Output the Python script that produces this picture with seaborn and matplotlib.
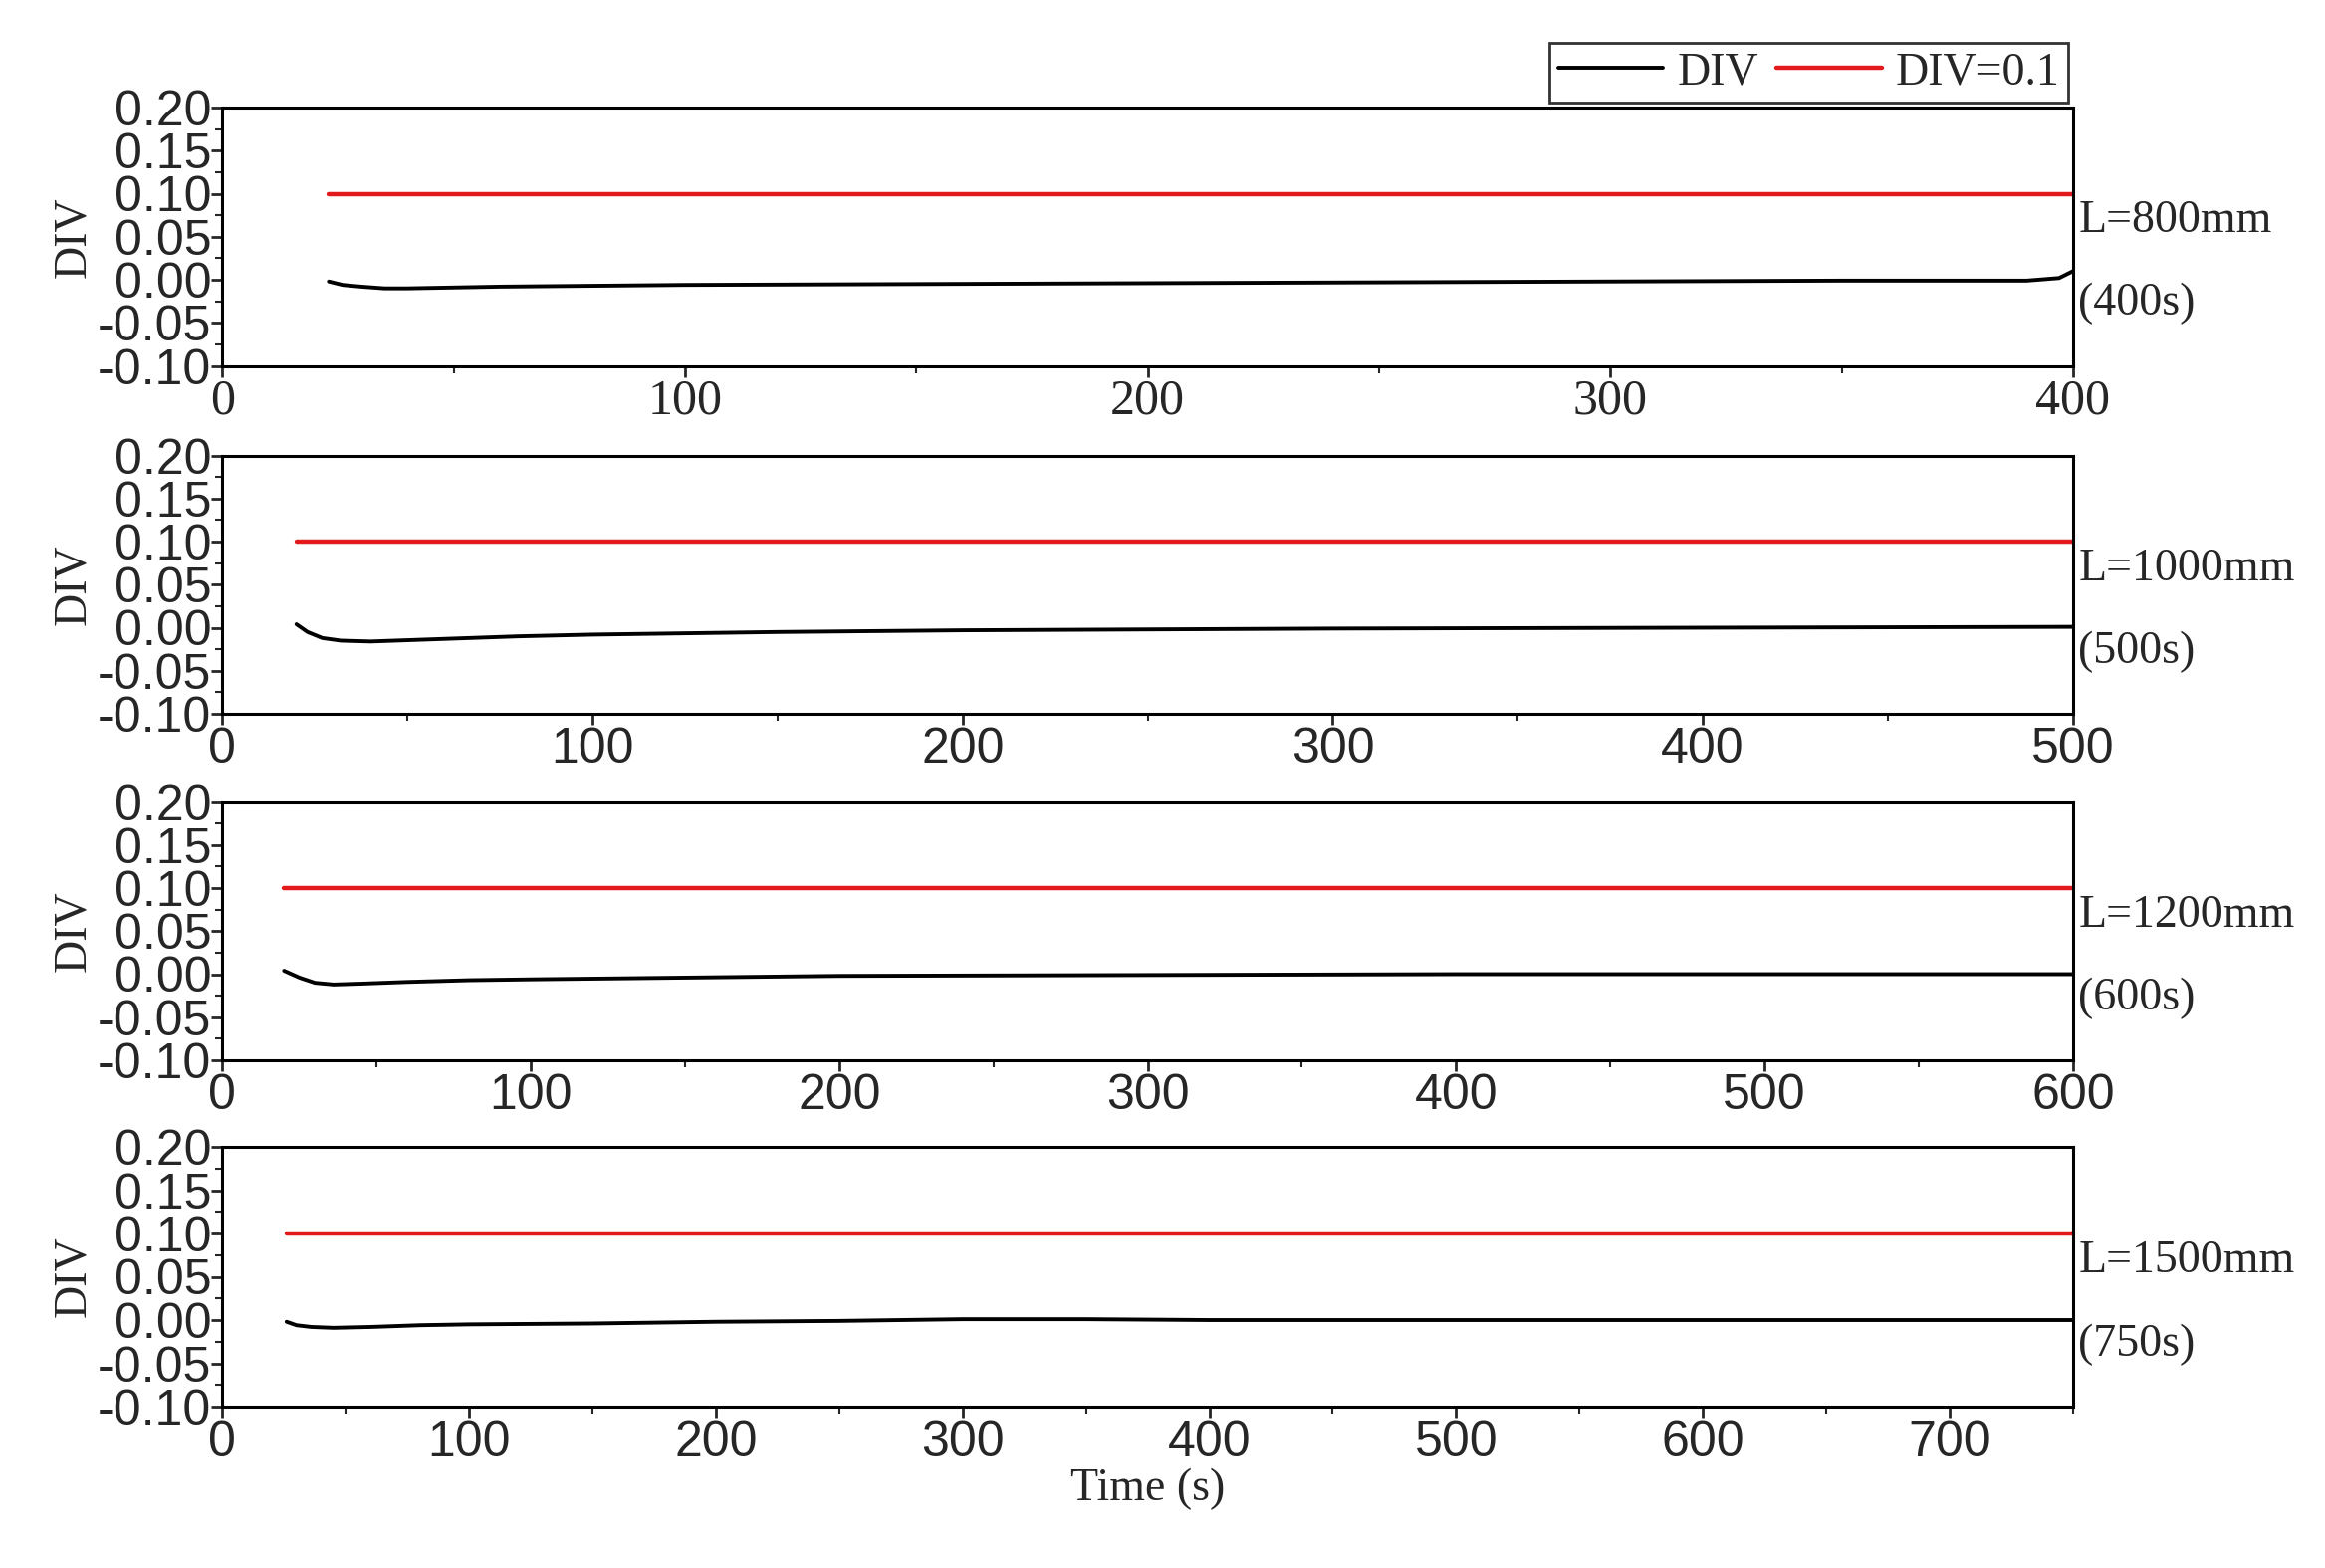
import numpy as np
import pandas as pd
import matplotlib
matplotlib.use("Agg")
import matplotlib.pyplot as plt
import seaborn as sns

sns.set_theme(style="white")
plt.rcParams['font.family'] = ['Liberation Serif', 'DejaVu Serif']

# values
lengths = ["L=800mm", "L=1000mm", "L=1200mm", "L=1500mm"]
durations = ["(400s)", "(500s)", "(600s)", "(750s)"]
xmax = [400, 500, 600, 750]
red_start = [23, 20, 20, 26]

t_800 = [23, 26, 30, 35, 40, 50, 60, 80, 100, 150, 200, 250, 300, 350, 390, 397, 400]
d_800 = [-0.002, -0.006, -0.008, -0.010, -0.010, -0.009, -0.008, -0.007, -0.006, -0.005, -0.004, -0.003, -0.002, -0.001, -0.001, 0.002, 0.010]
t_1000 = [20, 23, 27, 32, 40, 60, 80, 100, 150, 200, 250, 300, 400, 500]
d_1000 = [0.004, -0.005, -0.012, -0.015, -0.016, -0.013, -0.010, -0.008, -0.005, -0.003, -0.002, -0.001, 0.000, 0.001]
t_1200 = [20, 25, 30, 36, 45, 60, 80, 100, 150, 200, 300, 400, 600]
d_1200 = [0.004, -0.004, -0.010, -0.012, -0.011, -0.009, -0.007, -0.006, -0.004, -0.002, -0.001, 0.000, 0.000]
t_1500 = [26, 30, 36, 45, 60, 80, 100, 150, 200, 250, 300, 350, 400, 500, 750]
d_1500 = [-0.002, -0.006, -0.008, -0.009, -0.008, -0.006, -0.005, -0.004, -0.002, -0.001, 0.001, 0.001, 0.000, 0.000, 0.000]
series = [(t_800, d_800), (t_1000, d_1000), (t_1200, d_1200), (t_1500, d_1500)]

fig = plt.figure(figsize=(23.35, 15.75), dpi=100)
W, H = 1568, 1050
left, right = 150 / W, 1398 / W
spans = [(72, 245), (305, 478), (537, 710), (768, 942)]

for i, (top, bot) in enumerate(spans):
    ax = fig.add_axes([left, 1 - bot / H, right - left, (bot - top) / H])
    t, d = series[i]
    df = pd.DataFrame({"t": t, "DIV": d})
    sns.lineplot(data=df, x="t", y="DIV", ax=ax, color="black", lw=2.8, label="DIV")
    ref = pd.DataFrame({"t": [red_start[i], xmax[i]], "DIV": [0.1, 0.1]})
    sns.lineplot(data=ref, x="t", y="DIV", ax=ax, color="#e31a1c", lw=3.2, label="DIV=0.1")
    ax.set_xlim(0, xmax[i])
    ax.set_ylim(-0.10, 0.20)
    ax.set_yticks(np.arange(-0.10, 0.201, 0.05))
    ax.set_yticklabels([f"{v:.2f}" for v in np.arange(-0.10, 0.201, 0.05)])
    ax.set_yticks(np.arange(-0.10, 0.20, 0.025), minor=True)
    ax.set_xticks(np.arange(0, xmax[i] + 1, 100))
    ax.set_xticks(np.arange(0, xmax[i] + 1, 50), minor=True)
    ax.tick_params(axis="both", which="major", direction="out", length=8, width=2,
                   labelsize=36, bottom=True, left=True, pad=1)
    ax.tick_params(axis="y", which="major", pad=0)
    ax.tick_params(axis="both", which="minor", direction="out", length=5, width=1.5,
                   bottom=True, left=True)
    if i > 0:
        for lab in ax.get_xticklabels():
            lab.set_fontfamily("Liberation Sans")
    for lab in ax.get_yticklabels():
        lab.set_fontfamily("Liberation Sans")
    for s in ax.spines.values():
        s.set_linewidth(2.2)
        s.set_color("black")
    ax.set_ylabel("DIV", fontsize=33, labelpad=2)
    ax.set_xlabel("Time (s)" if i == 3 else "", fontsize=33, labelpad=2)
    ax.text(1.003, 0.56, lengths[i], transform=ax.transAxes, fontsize=33, va="center")
    ax.text(1.003, 0.24, durations[i], transform=ax.transAxes, fontsize=33, va="center")
    if i == 0:
        h, l = ax.get_legend_handles_labels()
        ax.legend(h, l, loc="lower right", bbox_to_anchor=(1.0, 1.0), ncol=2, fontsize=33,
                  frameon=True, fancybox=False, edgecolor="black", borderaxespad=0.1,
                  handlelength=2.3, columnspacing=0.4, handletextpad=0.3, borderpad=0.2)
        ax.get_legend().get_frame().set_linewidth(2)
    else:
        ax.get_legend().remove()

fig.savefig("out.png", dpi=100, facecolor="white")
